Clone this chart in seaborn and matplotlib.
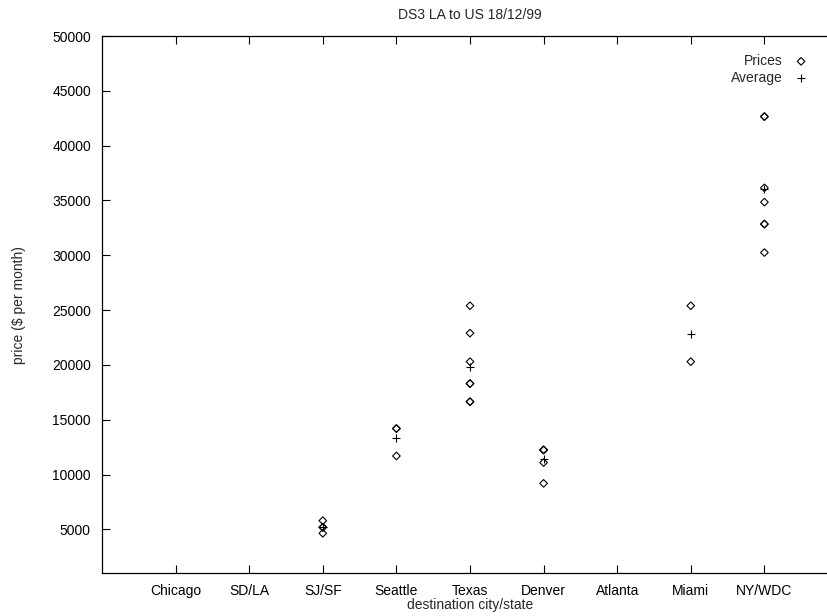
import matplotlib
matplotlib.use("Agg")
import matplotlib.pyplot as plt
import seaborn as sns
import pandas as pd

# ---- data ----
categories = ["Chicago", "SD/LA", "SJ/SF", "Seattle", "Texas", "Denver", "Atlanta", "Miami", "NY/WDC"]
price_city = (["SJ/SF"] * 4 + ["Seattle"] * 3 + ["Texas"] * 7 + ["Denver"] * 5
              + ["Miami"] * 2 + ["NY/WDC"] * 7)
price_vals = [5800, 5200, 5200, 4650,
              14200, 14200, 11700,
              25400, 22900, 20300, 18300, 18300, 16650, 16650,
              12250, 12250, 12250, 11100, 9200,
              25400, 20300,
              42650, 42650, 36150, 34850, 32850, 32850, 30250]
avg_city = ["SJ/SF", "Seattle", "Texas", "Denver", "Miami", "NY/WDC"]
avg_vals = [5210, 13370, 19790, 11410, 22850, 36040]
yticks = [5000, 10000, 15000, 20000, 25000, 30000, 35000, 40000, 45000, 50000]

pos = {c: i + 1 for i, c in enumerate(categories)}
prices = pd.DataFrame({"city": price_city, "price": price_vals})
prices["x"] = prices["city"].map(pos)
avgs = pd.DataFrame({"city": avg_city, "price": avg_vals})
avgs["x"] = avgs["city"].map(pos)

sns.set_style("ticks")
plt.rcParams["font.family"] = ["Liberation Sans", "DejaVu Sans"]
plt.rcParams["font.size"] = 10

W, H = 828, 616
fig = plt.figure(figsize=(W / 100, H / 100), dpi=100)
left, right, top, bottom = 102, 838, 36, 573.3
ax = fig.add_axes([left / W, (H - bottom) / H, (right - left) / W, (bottom - top) / H])

sns.scatterplot(data=prices, x="x", y="price", marker="D", s=15,
                facecolors="none", edgecolor="black", linewidth=0.8,
                label="Prices", ax=ax, zorder=3)
sns.scatterplot(data=avgs, x="x", y="price", marker="+", s=40,
                color="black", linewidth=0.8, label="Average", ax=ax, zorder=3)
for coll in ax.collections[:1]:
    coll.set_facecolor("none")
    coll.set_edgecolor("black")

ax.set_xlim(0, 10)
ax.set_ylim(1000, 50000)
ax.set_xticks(range(1, len(categories) + 1))
ax.set_xticklabels(categories)
ax.set_yticks(yticks)
ax.set_yticklabels([str(v) for v in yticks])
ax.tick_params(direction="in", top=True, right=True, length=5.5, width=0.8,
               colors="black", labelsize=10, pad=8)
for s in ax.spines.values():
    s.set_visible(True)
    s.set_linewidth(0.9)
    s.set_color("black")

ax.set_title("DS3 LA to US 18/12/99", fontsize=10, pad=12)
ax.set_xlabel("destination city/state", fontsize=10, labelpad=0)
ax.set_ylabel("price ($ per month)", fontsize=10, labelpad=19)

leg = ax.legend(loc="upper right",
                bbox_to_anchor=((808 - left) / (right - left), 1 - (54 - top) / (bottom - top)),
                markerfirst=False, frameon=False, fontsize=10, labelspacing=0.2,
                handletextpad=0.8, borderaxespad=0, borderpad=0, handlelength=1.0)

fig.savefig("out.png", dpi=100)
